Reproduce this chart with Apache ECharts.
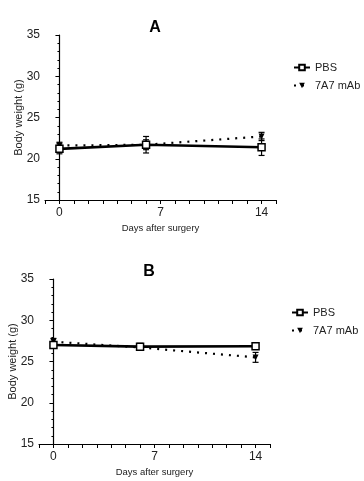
<!DOCTYPE html>
<html><head><meta charset="utf-8">
<script src="https://cdn.jsdelivr.net/npm/echarts@6/dist/echarts.min.js"></script>
<style>html,body{margin:0;padding:0;background:#fff}#c{width:364px;height:481px}</style>
</head><body><div id="c"></div>
<script>
const days = [0, 6, 14];
const xTickLabels = [0, 7, 14];
const yTickLabels = [15, 20, 25, 30, 35];
const pbsA = [21.2, 21.7, 21.4];
const pbsAErr = [0.6, 1.0, 1.0];
const mabA = [21.6, 21.7, 22.7];
const mabAErr = [0.4, 0.6, 0.5];
const pbsB = [27.0, 26.8, 26.85];
const pbsBErr = [0.3, 0.4, 0.2];
const mabB = [27.4, 26.7, 25.5];
const mabBErr = [0.4, 0.3, 0.6];

const FONT = 'Liberation Sans';
const pairs = (v) => days.map((d, i) => [d, v[i]]);
const errs = (v, e) => days.map((d, i) => [d, v[i] - e[i], v[i] + e[i]]);

function errSeries(v, e, idx) {
  return {
    type: 'custom', xAxisIndex: idx, yAxisIndex: idx, silent: true, z: 3,
    data: errs(v, e),
    renderItem: function (params, api) {
      const lo = api.coord([api.value(0), api.value(1)]);
      const hi = api.coord([api.value(0), api.value(2)]);
      const w = 3;
      const st = { stroke: '#000', lineWidth: 1.2 };
      return { type: 'group', children: [
        { type: 'line', shape: { x1: lo[0], y1: lo[1], x2: hi[0], y2: hi[1] }, style: st },
        { type: 'line', shape: { x1: lo[0] - w, y1: lo[1], x2: lo[0] + w, y2: lo[1] }, style: st },
        { type: 'line', shape: { x1: hi[0] - w, y1: hi[1], x2: hi[0] + w, y2: hi[1] }, style: st }
      ]};
    }
  };
}

function xAxis(idx) {
  return {
    type: 'value', gridIndex: idx, min: -1, max: 15, interval: 1,
    name: 'Days after surgery', nameLocation: 'middle', nameGap: 23, nameMoveOverlap: false,
    nameTextStyle: { fontFamily: FONT, fontSize: 9.5, color: '#222' },
    axisLine: { lineStyle: { color: '#000', width: 1.2 } },
    axisTick: { show: true, length: 4, lineStyle: { color: '#000' } },
    axisLabel: { fontFamily: FONT, fontSize: 12, color: '#222', margin: 7,
      formatter: v => xTickLabels.includes(v) ? String(v) : '' },
    splitLine: { show: false }
  };
}
function yAxis(idx) {
  return {
    type: 'value', gridIndex: idx, min: yTickLabels[0], max: yTickLabels[yTickLabels.length - 1], interval: 5,
    name: 'Body weight (g)', nameLocation: 'middle', nameGap: 21, nameMoveOverlap: false,
    nameTextStyle: { fontFamily: FONT, fontSize: 11, color: '#222' },
    axisLine: { show: true, lineStyle: { color: '#000', width: 1.2 } },
    axisTick: { show: true, length: 4, lineStyle: { color: '#000' } },
    minorTick: { show: true, splitNumber: 5, length: 2, lineStyle: { color: '#000' } },
    axisLabel: { fontFamily: FONT, fontSize: 12, color: '#222', margin: 5 },
    splitLine: { show: false }
  };
}
function pbsSeries(name, v, idx) {
  return { name: name, type: 'line', xAxisIndex: idx, yAxisIndex: idx, data: pairs(v), z: 4,
    symbol: 'rect', symbolSize: 7, itemStyle: { color: '#fff', borderColor: '#000', borderWidth: 1.5 },
    lineStyle: { color: '#000', width: 2.6 } };
}
function mabSeries(name, v, idx) {
  return { name: name, type: 'line', xAxisIndex: idx, yAxisIndex: idx, data: pairs(v), z: 4,
    symbol: 'triangle', symbolRotate: 180, symbolSize: 6, itemStyle: { color: '#000' },
    lineStyle: { color: '#000', width: 2.2, type: [2, 6] } };
}

const chart = echarts.init(document.getElementById('c'));
chart.setOption({
  animation: false,
  title: [
    { text: 'A', left: 150, top: 15, textAlign: 'center', textStyle: { fontFamily: FONT, fontSize: 16, fontWeight: 'bold', color: '#000' } },
    { text: 'B', left: 144, top: 259, textAlign: 'center', textStyle: { fontFamily: FONT, fontSize: 16, fontWeight: 'bold', color: '#000' } }
  ],
  legend: [
    { left: 288, top: 57, orient: 'vertical', itemGap: 7, itemWidth: 16, itemHeight: 7,
      textStyle: { fontFamily: FONT, fontSize: 11, color: '#222' },
      data: ['PBS', '7A7 mAb'] },
    { left: 286, top: 302, orient: 'vertical', itemGap: 7, itemWidth: 16, itemHeight: 7,
      textStyle: { fontFamily: FONT, fontSize: 11, color: '#222' },
      data: ['PBS ', '7A7 mAb '] }
  ],
  grid: [
    { left: 45, top: 35, width: 231, height: 165, containLabel: false, outerBoundsMode: 'none' },
    { left: 39, top: 279, width: 231, height: 165, containLabel: false, outerBoundsMode: 'none' }
  ],
  xAxis: [xAxis(0), xAxis(1)],
  yAxis: [yAxis(0), yAxis(1)],
  series: [
    errSeries(pbsA, pbsAErr, 0),
    errSeries(mabA, mabAErr, 0),
    mabSeries('7A7 mAb', mabA, 0),
    pbsSeries('PBS', pbsA, 0),
    errSeries(pbsB, pbsBErr, 1),
    errSeries(mabB, mabBErr, 1),
    mabSeries('7A7 mAb ', mabB, 1),
    pbsSeries('PBS ', pbsB, 1)
  ]
});
</script></body></html>
